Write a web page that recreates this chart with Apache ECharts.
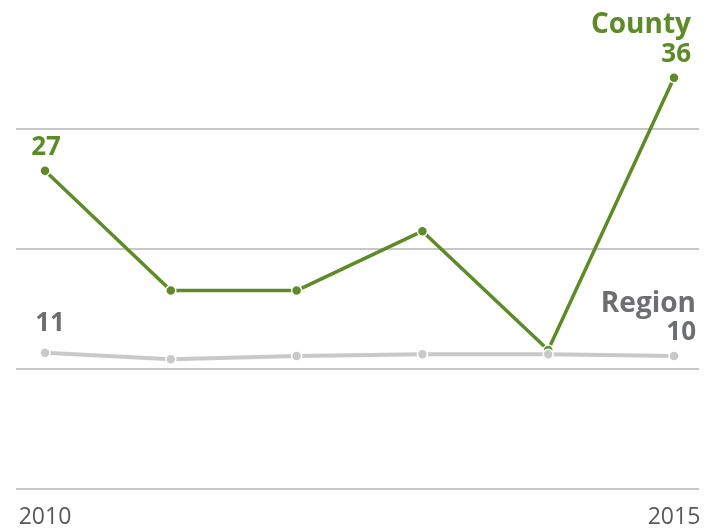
<!DOCTYPE html>
<html>
<head>
<meta charset="utf-8">
<script src="https://cdn.jsdelivr.net/npm/echarts@6/dist/echarts.min.js"></script>
<style>
  html, body { margin: 0; padding: 0; background: #fff; }
  #chart { width: 717px; height: 531px; }
</style>
</head>
<body>
<div id="chart"></div>
<script>
// Years on the horizontal axis
const years = ['2010', '2011', '2012', '2013', '2014', '2015'];
// Series values
const countyValues = [27.2, 16.3, 16.3, 21.7, 10.9, 35.65];
const regionValues = [10.65, 10.05, 10.35, 10.5, 10.5, 10.35];
// Series names
const countyName = 'County';
const regionName = 'Region';
// Only the first and last years are labelled
const tickLabels = ['2010', '2015'];

const GREEN = '#5d8b27';
const GREY_LINE = '#c9c9cb';
const GREY_TEXT = '#6d6e71';
const FONT = '"Open Sans", "Noto Sans", sans-serif';

const last = years.length - 1;

function endLabels(name, color) {
  return {
    show: true,
    fontFamily: FONT,
    fontWeight: 'bold',
    color: color,
    formatter: function (p) {
      const v = Math.round(p.value);
      if (p.dataIndex === last) return '{t|' + name + '}\n{n|' + v + '}';
      if (p.dataIndex === 0) return '{n|' + v + '}';
      return '';
    },
    rich: {
      t: { fontFamily: FONT, fontWeight: 'bold', fontSize: 28, lineHeight: 29, color: color, align: 'right' },
      n: { fontFamily: FONT, fontWeight: 'bold', fontSize: 26, lineHeight: 29, color: color, align: 'right' }
    }
  };
}

const chart = echarts.init(document.getElementById('chart'), null, { renderer: 'canvas' });

chart.setOption({
  animation: false,
  grid: [
    // data area: first and last points sit inside the rules
    { left: 45, right: 43, top: 9, bottom: 42, containLabel: false },
    // horizontal rules span the full width
    { left: 16, right: 18, top: 9, bottom: 42, containLabel: false }
  ],
  xAxis: [
    {
      type: 'category', gridIndex: 0, data: years, boundaryGap: false,
      axisLine: { show: false }, axisTick: { show: false }, splitLine: { show: false },
      axisLabel: {
        fontFamily: FONT, fontSize: 23, color: '#58595b', margin: 17,
        interval: function (i, v) { return tickLabels.indexOf(v) >= 0; },
        showMinLabel: true, showMaxLabel: true
      }
    },
    { type: 'value', gridIndex: 1, min: 0, max: 1, show: false }
  ],
  yAxis: [
    {
      type: 'value', gridIndex: 0, min: -1.74, max: -1.74 + 480 / 11,
      show: false, splitLine: { show: false }
    },
    {
      type: 'value', gridIndex: 1, min: 0, max: 4, interval: 1,
      axisLine: { show: false }, axisTick: { show: false }, axisLabel: { show: false },
      splitLine: { show: true, showMaxLine: false, lineStyle: { color: '#b4b4b6', width: 1.5 } }
    }
  ],
  series: [
    {
      name: countyName, type: 'line', xAxisIndex: 0, yAxisIndex: 0,
      data: countyValues.map(function (v, i) {
        const d = { value: v };
        if (i === 0) d.label = { position: 'top', align: 'center', distance: 3, offset: [1, 0] };
        if (i === last) d.label = { position: 'top', align: 'right', distance: 3, offset: [17, 0] };
        return d;
      }),
      symbol: 'circle', symbolSize: 10, showSymbol: true,
      lineStyle: { color: GREEN, width: 3.5 },
      itemStyle: { color: GREEN, borderColor: '#fff', borderWidth: 1.5 },
      label: endLabels(countyName, GREEN),
      z: 2
    },
    {
      name: regionName, type: 'line', xAxisIndex: 0, yAxisIndex: 0,
      data: regionValues.map(function (v, i) {
        const d = { value: v };
        if (i === 0) d.label = { position: 'top', align: 'center', distance: 9, offset: [5, 0] };
        if (i === last) d.label = { position: 'top', align: 'right', distance: 3, offset: [22, 0] };
        return d;
      }),
      symbol: 'circle', symbolSize: 10, showSymbol: true,
      lineStyle: { color: GREY_LINE, width: 4 },
      itemStyle: { color: GREY_LINE, borderColor: '#fff', borderWidth: 1.5 },
      label: endLabels(regionName, GREY_TEXT),
      z: 3
    }
  ]
});
</script>
</body>
</html>
